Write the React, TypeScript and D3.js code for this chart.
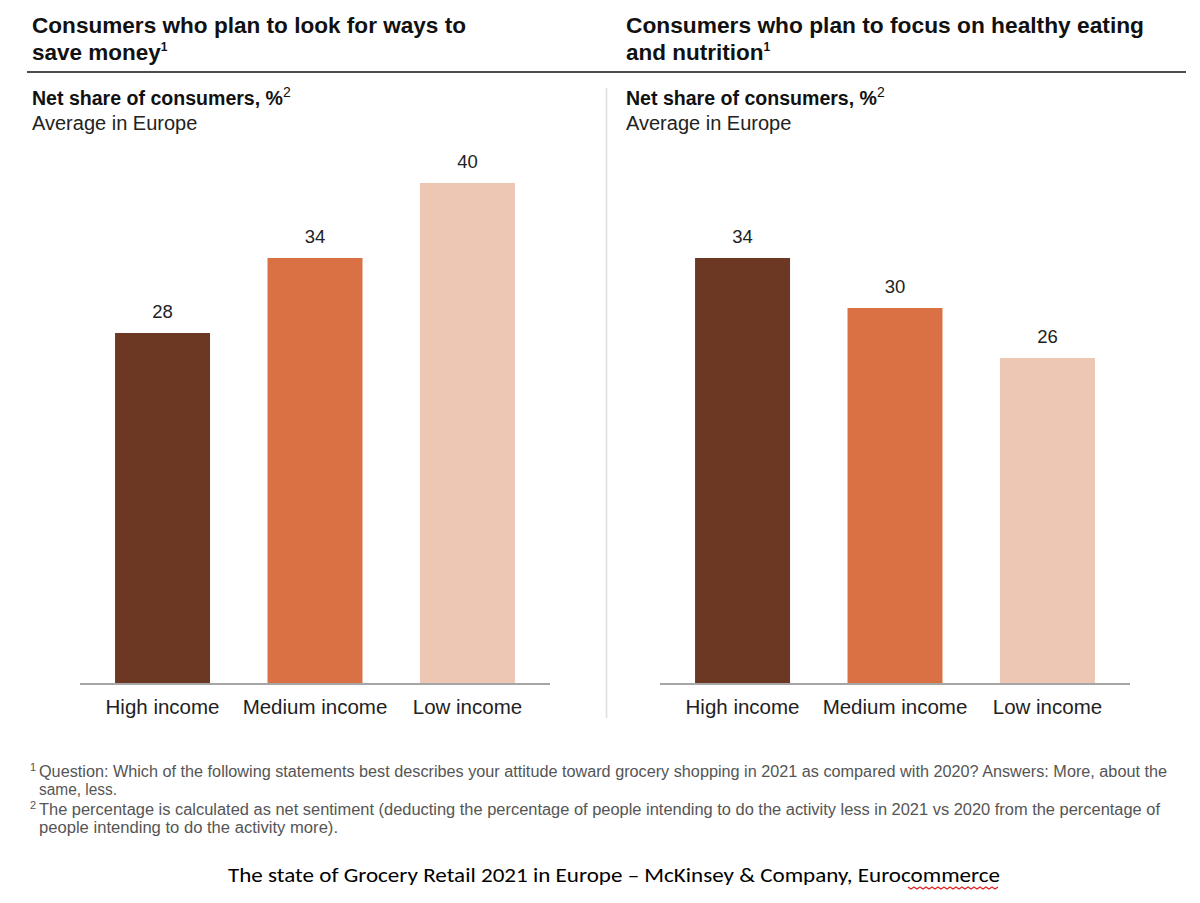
import * as d3 from "d3";

// Data
const categories = ["High income", "Medium income", "Low income"];
const saveMoney = [28, 34, 40];
const healthyEating = [34, 30, 26];
const barColors = ["#6C3823", "#D97145", "#EEC6B4"];

const leftTitle = ["Consumers who plan to look for ways to", "save money"];
const rightTitle = ["Consumers who plan to focus on healthy eating", "and nutrition"];
const subtitle = "Net share of consumers, %";
const subtitle2 = "Average in Europe";
const footnotes = [
  { mark: "1", lines: ["Question: Which of the following statements best describes your attitude toward grocery shopping in 2021 as compared with 2020? Answers: More, about the", "same, less."] },
  { mark: "2", lines: ["The percentage is calculated as net sentiment (deducting the percentage of people intending to do the activity less in 2021 vs 2020 from the percentage of", "people intending to do the activity more)."] },
];
// widths of each footnote line as measured on the picture
const footnoteWidths = [[1128, 78], [1121, 299]];
const sourceText = "The state of Grocery Retail 2021 in Europe \u2013 McKinsey & Company, Eurocommerce";

const W = 1200;
const H = 903;
const font = "'Liberation Sans', Arial, sans-serif";
const baseY = 683;

function Panel(props: { x0: number; axisX: number; title: string[]; titleW: number; values: number[] }) {
  const { x0, axisX, title, titleW, values } = props;
  const x = d3.scaleBand<string>()
    .domain(categories)
    .range([axisX, axisX + 470])
    .paddingInner(0.377)
    .paddingOuter(0.23);
  const y = d3.scaleLinear().domain([0, 40]).range([baseY, 183]);

  return (
    <g>
      <text x={x0} y={33} fontFamily={font} fontSize={22.5} fontWeight={600} fill="#111"
        textLength={titleW} lengthAdjust="spacingAndGlyphs">{title[0]}</text>
      <text x={x0} y={60} fontFamily={font} fontSize={22.5} fontWeight={600} fill="#111">
        {title[1]}
        <tspan fontSize={12} dy={-9}>1</tspan>
      </text>
      <text x={x0} y={105} fontFamily={font} fontSize={19.5} fontWeight={700} fill="#111">
        <tspan textLength={251} lengthAdjust="spacingAndGlyphs">{subtitle}</tspan>
        <tspan fontSize={14} fontWeight={400} dy={-8}>2</tspan>
      </text>
      <text x={x0} y={130} fontFamily={font} fontSize={20} fill="#222">{subtitle2}</text>

      {values.map((v, i) => (
        <g key={categories[i]}>
          <rect x={x(categories[i])} y={y(v)} width={x.bandwidth()} height={baseY - y(v)} fill={barColors[i]} />
          <text x={x(categories[i])! + x.bandwidth() / 2} y={y(v) - 15} textAnchor="middle"
            fontFamily={font} fontSize={18.5} fill="#222">{v}</text>
          <text x={x(categories[i])! + x.bandwidth() / 2} y={714} textAnchor="middle"
            fontFamily={font} fontSize={20.5} fill="#222">{categories[i]}</text>
        </g>
      ))}
      <line x1={x.range()[0]} x2={x.range()[1]} y1={baseY + 1} y2={baseY + 1} stroke="#a6a6a6" strokeWidth={2} />
    </g>
  );
}

export default function App() {
  // red wavy spell-check underline under "Eurocommerce"
  const wave: [number, number][] = d3.range(0, 31).map(i => [908 + i * 3, 887 + (i % 2 === 0 ? 0 : 2)]);
  return (
    <svg width={W} height={H} style={{ display: "block", margin: -8 }}>
      <rect width={W} height={H} fill="#fff" />
      <line x1={27} x2={1186} y1={72} y2={72} stroke="#111" strokeWidth={1.5} />
      <line x1={606.5} x2={606.5} y1={88} y2={718} stroke="#ddd" strokeWidth={1.5} />
      <Panel x0={32} axisX={80} title={leftTitle} titleW={434} values={saveMoney} />
      <Panel x0={626} axisX={660} title={rightTitle} titleW={518} values={healthyEating} />

      {footnotes.map((f, k) => (
        <g key={f.mark} fontFamily={font} fill="#555">
          <text x={30} y={[771, 809][k]} fontSize={11}>{f.mark}</text>
          {f.lines.map((l, j) => (
            <text key={j} x={39} y={[777, 815][k] + j * 18} fontSize={16}
              textLength={footnoteWidths[k][j]} lengthAdjust="spacingAndGlyphs">{l}</text>
          ))}
        </g>
      ))}

      <text x={228} y={882} fontFamily="Carlito, Calibri, 'Liberation Sans Narrow', 'Liberation Sans', sans-serif"
        fontSize={21} fill="#000" textLength={772} lengthAdjust="spacingAndGlyphs">{sourceText}</text>
      <path d={d3.line()(wave)!} fill="none" stroke="#d22" strokeWidth={1.2} />
    </svg>
  );
}
